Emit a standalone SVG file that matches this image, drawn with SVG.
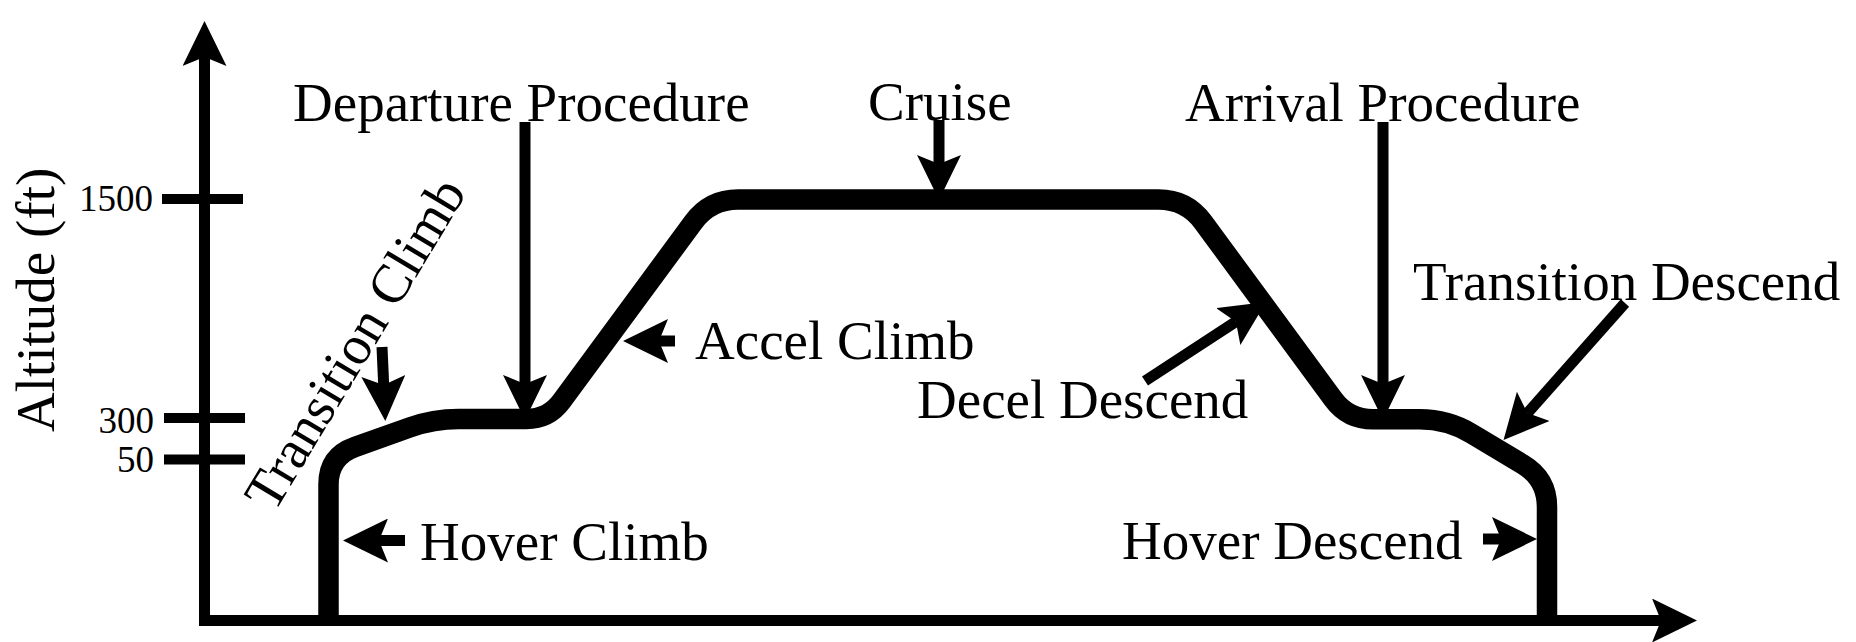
<svg xmlns="http://www.w3.org/2000/svg" width="1856" height="642" viewBox="0 0 1856 642">
<style>
text{font-family:"Liberation Serif","Times New Roman",serif;fill:#000}
.lbl{font-size:55px}
.tk{font-size:37px;text-anchor:end}
.ax{stroke:#000;stroke-width:11;fill:none}
.tick{stroke:#000;stroke-width:10;fill:none}
.ar{stroke:#000;stroke-width:11;fill:none;marker-end:url(#ah)}
.fp{stroke:#000;stroke-width:20.5;fill:none;stroke-linejoin:round}
</style>
<defs>
<marker id="ah" viewBox="0 0 45 44" refX="9" refY="22" markerWidth="45" markerHeight="44" markerUnits="userSpaceOnUse" orient="auto"><path d="M45,22 L0,0 L9,22 L0,44 Z" fill="#000"/></marker>
</defs>
<rect width="1856" height="642" fill="#fff"/>
<g id="axes">
<line class="ax" x1="204.5" y1="626" x2="204.5" y2="57" marker-end="url(#ah)"/>
<line class="ax" x1="199" y1="620.5" x2="1661" y2="620.5" marker-end="url(#ah)"/>
<line class="tick" x1="162" y1="199" x2="243" y2="199"/>
<line class="tick" x1="164" y1="418" x2="245" y2="418"/>
<line class="tick" x1="164" y1="459.5" x2="245" y2="459.5"/>
<text class="tk" x="153" y="210.5">1500</text>
<text class="tk" x="154" y="433">300</text>
<text class="tk" x="154" y="471.5">50</text>
<text class="lbl" transform="translate(53.5,432) rotate(-90)">Altitude (ft)</text>
</g>
<g id="connectors">
<line class="ar" x1="525" y1="122" x2="525" y2="384"/>
<line class="ar" x1="939" y1="120" x2="939" y2="164"/>
<line class="ar" x1="1383" y1="122" x2="1383" y2="384"/>
<line class="ar" x1="382" y1="347" x2="383.7" y2="385"/>
<line class="ar" x1="675" y1="341" x2="659" y2="341"/>
<line class="ar" x1="405" y1="540.5" x2="379" y2="540.5"/>
<line class="ar" x1="1483" y1="539" x2="1501" y2="539"/>
<line class="ar" x1="1145" y1="381" x2="1235.9" y2="321.7"/>
<line class="ar" x1="1625" y1="303" x2="1527.4" y2="413.1"/>
</g>
<g id="flight-path">
<path class="fp" d="M328.5,620 L328.5,484.4 Q328.5,456.4 354.9,447 L409.95,427.4 Q433.5,419 458.5,419 L526.5,419 Q548.5,419 561.5,401.3 L693.4,222.1 Q710,199.5 738,199.5 L1158.5,199.5 Q1186.5,199.5 1203.1,222.1 L1333.2,399.1 Q1348,419.3 1373,419.3 L1419.7,419.3 Q1447.7,419.3 1471.7,433.7 L1523,464.5 Q1547,478.9 1547,506.9 L1547,620"/>
</g>
<g id="label-departure"><text class="lbl" x="293" y="120.5">Departure Procedure</text></g>
<g id="label-cruise"><text class="lbl" x="868" y="120">Cruise</text></g>
<g id="label-arrival"><text class="lbl" x="1185" y="120.5">Arrival Procedure</text></g>
<g id="label-transition-climb"><text class="lbl" transform="translate(274,514) rotate(-59)">Transition Climb</text></g>
<g id="label-accel-climb"><text class="lbl" x="695" y="359">Accel Climb</text></g>
<g id="label-decel-descend"><text class="lbl" x="917" y="418">Decel Descend</text></g>
<g id="label-transition-descend"><text class="lbl" x="1413" y="299.5">Transition Descend</text></g>
<g id="label-hover-climb"><text class="lbl" x="420" y="560">Hover Climb</text></g>
<g id="label-hover-descend"><text class="lbl" x="1122" y="559">Hover Descend</text></g>
</svg>
